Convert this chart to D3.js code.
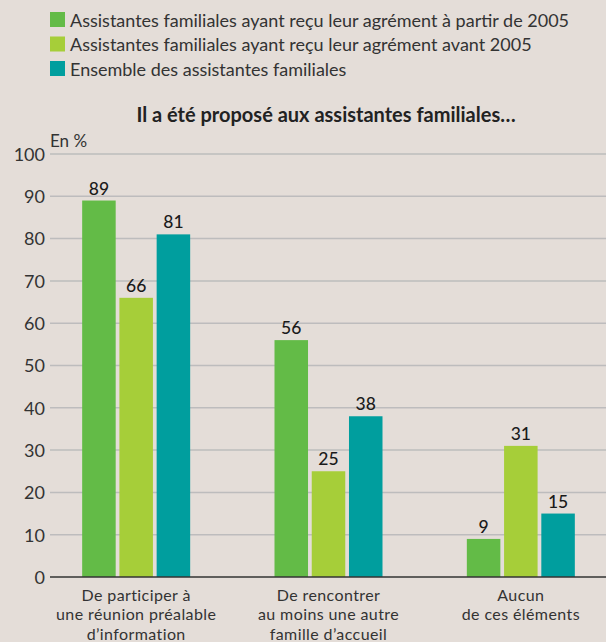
<!DOCTYPE html>
<html>
<head>
<meta charset="utf-8">
<script src="https://cdn.jsdelivr.net/npm/d3@7"></script>
<style>
  body { margin: 0; background: #e4ddd8; }
  svg { display: block; font-family: Lato, sans-serif; }
  .tick text { fill: #333; font-size: 18px; font-family: Lato, sans-serif; }
  .grid line { stroke: #bdbcbd; stroke-width: 1.5; }
</style>
</head>
<body>
<div class="bar_chart"></div>
<script>
const categories = [
  ["De participer à", "une réunion préalable", "d\u2019information"],
  ["De rencontrer", "au moins une autre", "famille d\u2019accueil"],
  ["Aucun", "de ces éléments"]
]
const seriesNames = [
  "Assistantes familiales ayant reçu leur agrément à partir de 2005",
  "Assistantes familiales ayant reçu leur agrément avant 2005",
  "Ensemble des assistantes familiales"
]
const seriesColors = ["#63bb47", "#a6ce39", "#009e9e"]
const depuis2005 = [89, 56, 9]
const avant2005 = [66, 25, 31]
const ensemble = [81, 38, 15]
const yTicks = [0, 10, 20, 30, 40, 50, 60, 70, 80, 90, 100]
const title = "Il a été proposé aux assistantes familiales\u2026"

function drawBars() {
    const width = 606
    const height = 642

    const dataset = categories.map((c, i) => ({
        index: i,
        lines: c,
        values: [depuis2005[i], avant2005[i], ensemble[i]]
    }))

    const wrapper = d3.select(".bar_chart")
        .append("svg")
        .attr("width", width)
        .attr("height", height)

    // legend
    const legend = wrapper.append("g")
    seriesNames.forEach((name, i) => {
        legend.append("rect")
            .attr("x", 50).attr("y", 12 + i * 24.5)
            .attr("width", 15).attr("height", 15)
            .attr("fill", seriesColors[i])
        legend.append("text")
            .attr("x", 70).attr("y", 26.5 + i * 24.5)
            .attr("font-size", 18)
            .attr("fill", "#333")
            .text(name)
    })

    wrapper.append("text")
        .attr("x", 326).attr("y", 122)
        .attr("text-anchor", "middle")
        .attr("font-size", 20)
        .attr("font-weight", "bold")
        .attr("fill", "#222")
        .text(title)

    wrapper.append("text")
        .attr("x", 50).attr("y", 147)
        .attr("font-size", 17)
        .attr("fill", "#333")
        .text("En %")

    const yScale = d3.scaleLinear()
        .domain([0, 100])
        .range([577, 154])

    const xScale = d3.scaleBand()
        .domain(d3.range(categories.length))
        .range([40, 617])

    const x1 = d3.scaleBand()
        .domain(d3.range(3))
        .range([-54, 54])
        .paddingInner(0.1)

    // grid
    wrapper.append("g")
        .attr("class", "grid")
        .selectAll("line")
        .data(yTicks.filter(d => d > 0))
        .join("line")
        .attr("x1", 50).attr("x2", width)
        .attr("y1", d => yScale(d)).attr("y2", d => yScale(d))

    const yAxis = wrapper.append("g")
        .attr("transform", "translate(45,0)")
        .call(d3.axisLeft(yScale).tickValues(yTicks).tickSize(0).tickPadding(0))
    yAxis.select(".domain").remove()
    yAxis.selectAll(".tick text").attr("dy", "0.35em")

    const groups = wrapper.selectAll(".group")
        .data(dataset)
        .join("g")
        .attr("class", "group")
        .attr("transform", d => `translate(${xScale(d.index) + xScale.bandwidth() / 2},0)`)

    groups.selectAll("rect")
        .data(d => d.values)
        .join("rect")
        .attr("x", (d, i) => x1(i))
        .attr("y", d => yScale(d))
        .attr("width", x1.bandwidth())
        .attr("height", d => yScale(0) - yScale(d))
        .attr("fill", (d, i) => seriesColors[i])

    groups.selectAll(".bar_label")
        .data(d => d.values)
        .join("text")
        .attr("class", "bar_label")
        .attr("x", (d, i) => x1(i) + x1.bandwidth() / 2)
        .attr("y", d => yScale(d) - 6)
        .attr("text-anchor", "middle")
        .attr("font-size", 17.5)
        .attr("font-weight", 500)
        .attr("fill", "#1a1a1a")
        .text(d => d)

    // baseline
    wrapper.append("line")
        .attr("x1", 50).attr("x2", width)
        .attr("y1", yScale(0)).attr("y2", yScale(0))
        .attr("stroke", "#333").attr("stroke-width", 1.5)

    groups.append("text")
        .attr("text-anchor", "middle")
        .attr("font-size", 16)
        .attr("letter-spacing", 0.4)
        .attr("fill", "#333")
        .selectAll("tspan")
        .data(d => d.lines)
        .join("tspan")
        .attr("x", 0)
        .attr("y", (d, i) => 601 + i * 19.3)
        .text(d => d)
}

drawBars()
</script>
</body>
</html>
